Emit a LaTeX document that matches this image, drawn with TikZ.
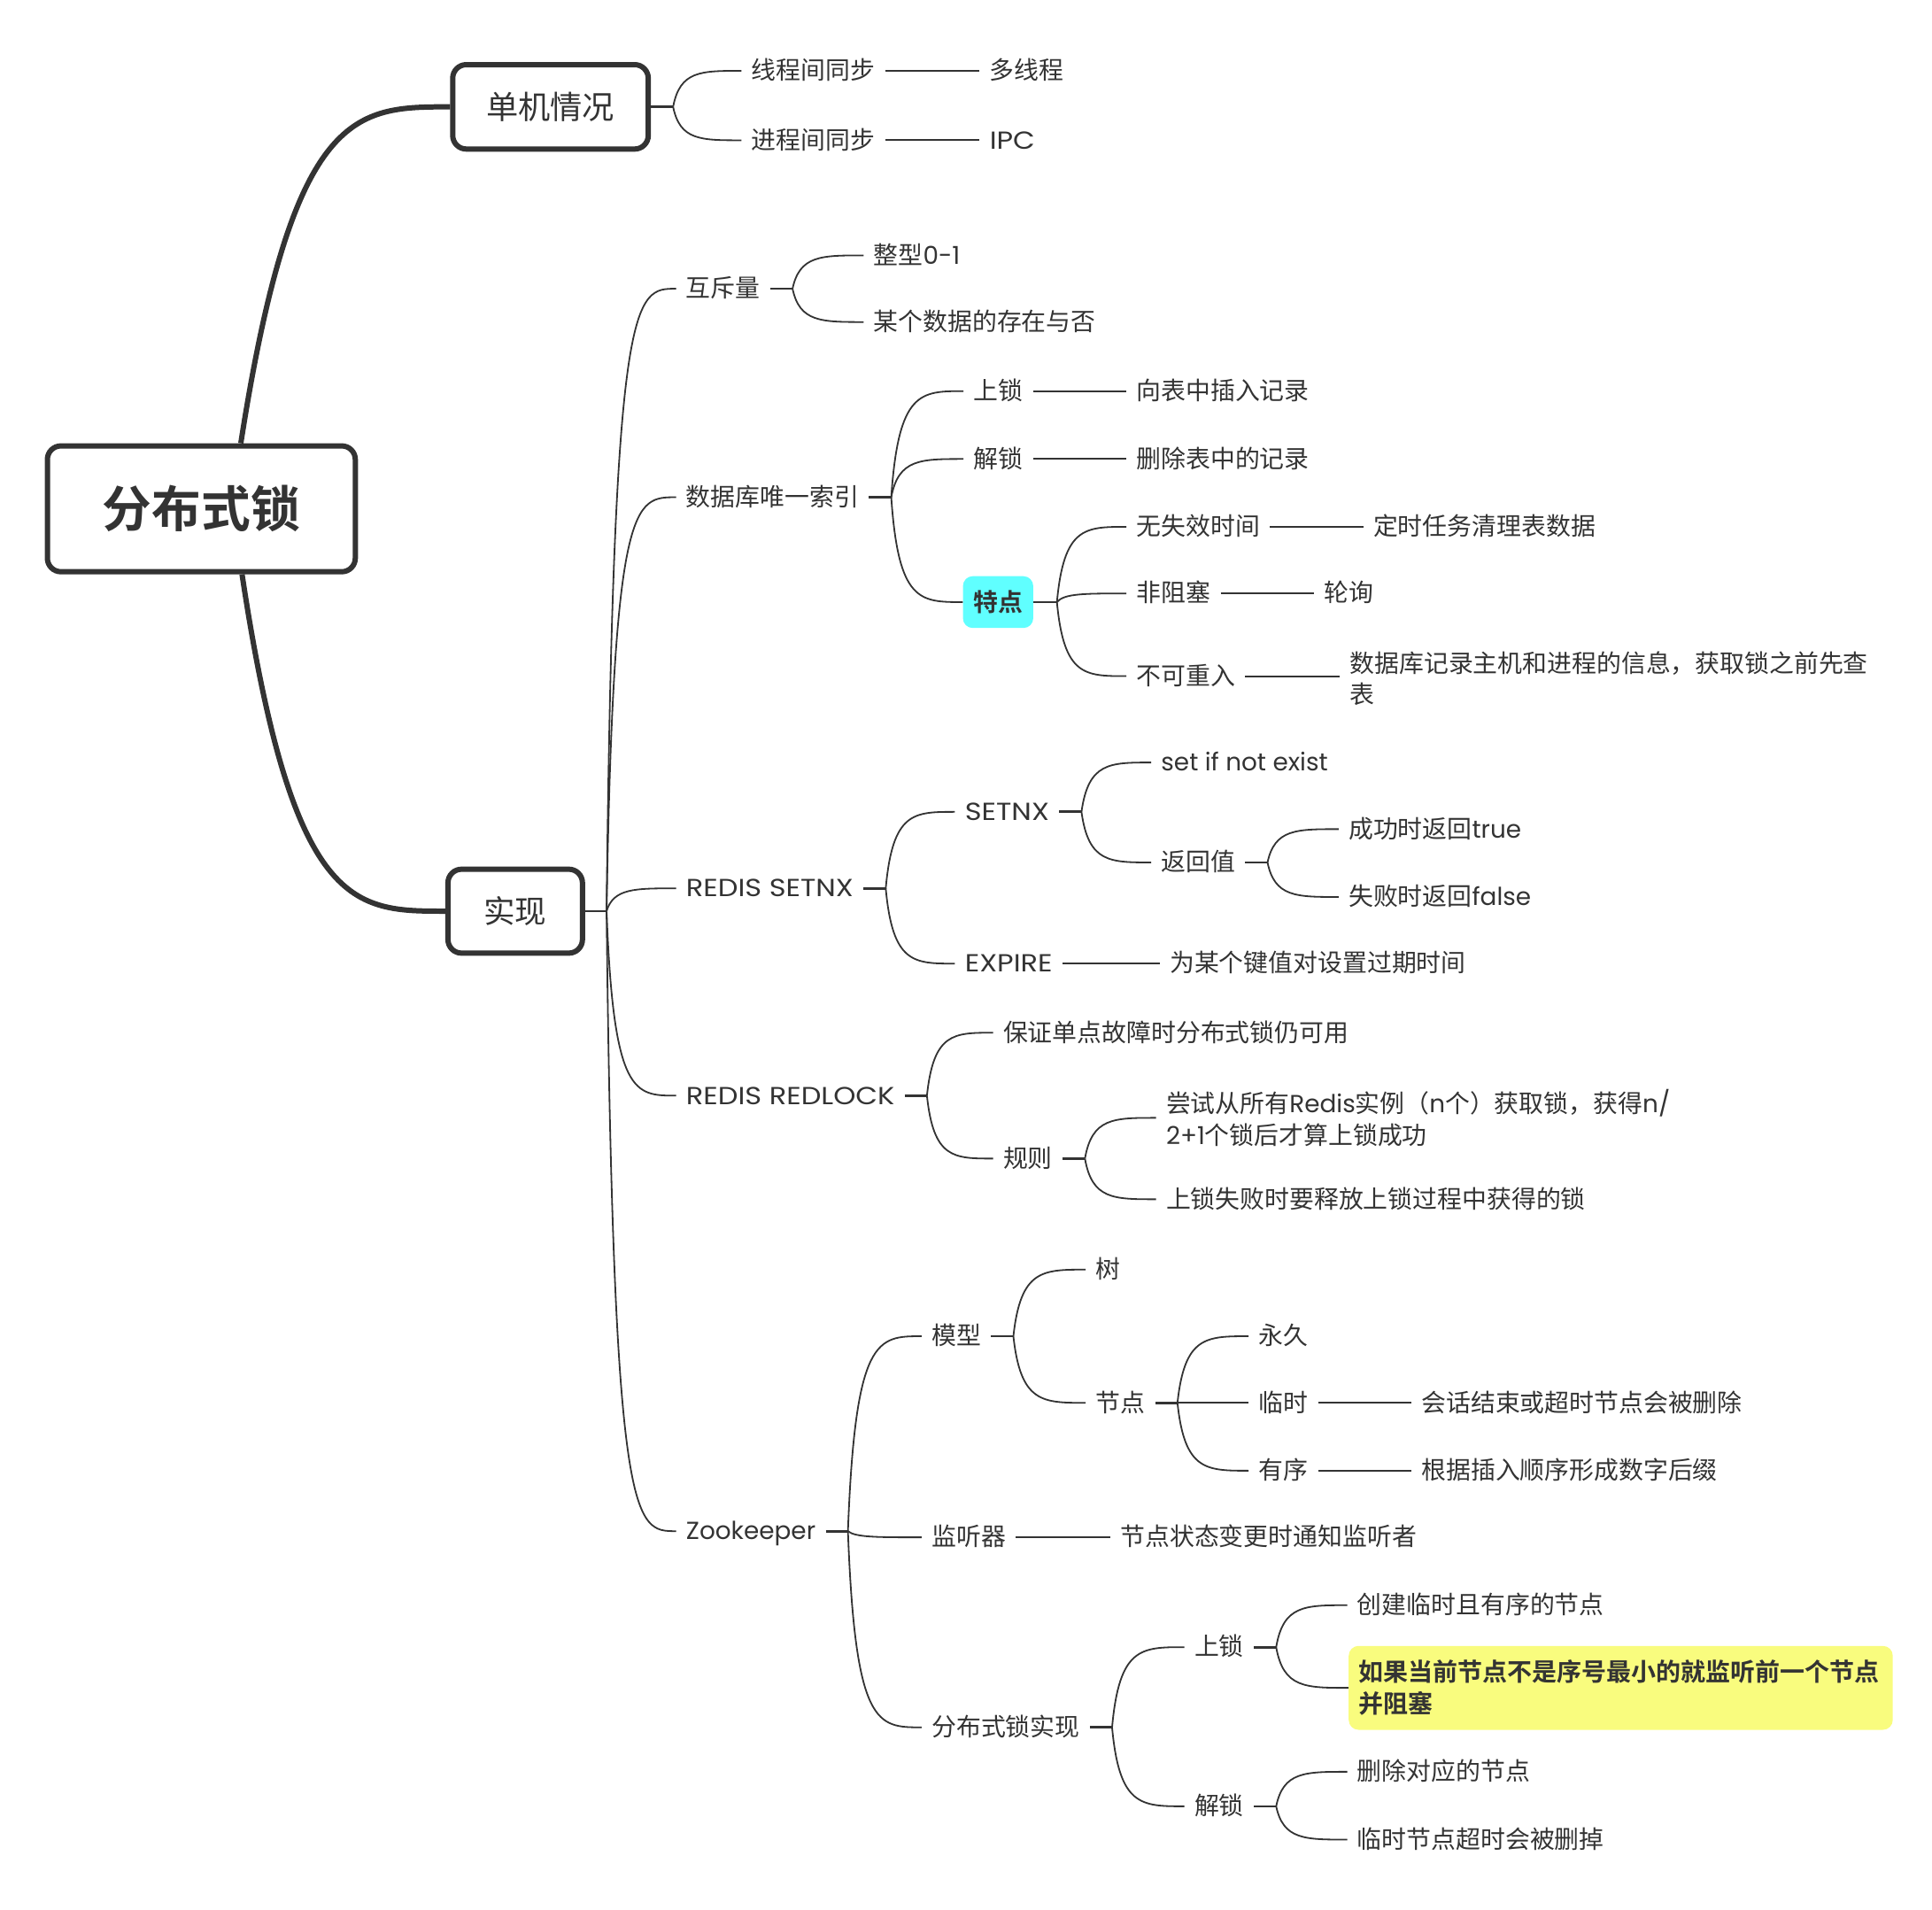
\documentclass[tikz,border=0pt]{standalone}
\usepackage{fontspec}
\setmainfont{Noto Sans CJK SC}[BoldFont={Noto Sans CJK SC Bold}]
\newfontfamily\lat{Poppins}
\newfontfamily\latw{Poppins}[FakeStretch=1.15]
\usetikzlibrary{calc}
\definecolor{ink}{HTML}{333333}
\definecolor{cyanfill}{HTML}{60FFFF}
\definecolor{yel}{HTML}{F9FC7E}
\newcommand\la[1]{{\lat #1}}
\newcommand\lw[1]{{\latw #1}}
\begin{document}
\begin{tikzpicture}[x=1pt,y=-1pt,
 t/.style={anchor=west, inner xsep=8pt, inner ysep=0pt, text height=17pt, text depth=3pt, font=\fontsize{20}{25}\selectfont, text=ink},
 ml/.style={anchor=west, inner xsep=8pt, inner ysep=0pt, align=left, font=\fontsize{20}{25.5}\selectfont, text=ink},
 bigbox/.style={draw=ink, line width=4.3pt, rounded corners=11pt, fill=white, text=ink, inner sep=0pt},
 thinln/.style={draw=ink, line width=1.3pt},
 stubln/.style={draw=ink, line width=2pt},
 strln/.style={draw=ink, line width=1.5pt},
 thickln/.style={draw=ink, line width=4.3pt},
 br/.style={to path={.. controls ($(\tikztostart|-\tikztotarget)!0.1!(\tikztotarget)$) and ($(\tikztostart|-\tikztotarget)!0.4!(\tikztotarget)$) .. (\tikztotarget)}},
 brk/.style={to path={.. controls ($(\tikztostart|-\tikztotarget)!0.25!(\tikztotarget)$) and ($(\tikztostart|-\tikztotarget)!0.55!(\tikztotarget)$) .. (\tikztotarget)}},
]
\useasboundingbox (0,0) rectangle (1566,1547.5);

% main boxes
\node[bigbox, minimum width=249.6pt, minimum height=102pt, font=\bfseries\fontsize{40}{40}\selectfont] (root) at (163.2,412.4) {分布式锁};
\node[bigbox, minimum width=158.5pt, minimum height=68.4pt, font=\fontsize{26}{26}\selectfont] (dj) at (446.2,86.6) {单机情况};
\node[bigbox, minimum width=109pt, minimum height=68pt, font=\fontsize{25.5}{26}\selectfont] (sx) at (417.6,738.5) {实现};

\draw[thickln] ($(root.north)+(32,0)$) to[brk] (dj.west);
\draw[thickln] ($(root.south)+(33,0)$) to[brk] (sx.west);

% 单机情况
\coordinate (fdj) at ($(dj.east)+(18,0)$);
\draw[stubln] (dj.east) -- (fdj);
\node[t] (a1) at (601,57.4) {线程间同步};
\node[t] (a2) at (601,113.7) {进程间同步};
\node[t] (a1b) at (794,57.4) {多线程};
\node[t] (a2b) at (794,113.7) {\lw{IPC}};
\draw[thinln] (fdj) to[br] (a1.west);
\draw[thinln] (fdj) to[br] (a2.west);
\draw[strln] (a1.east) -- (a1b.west);
\draw[strln] (a2.east) -- (a2b.west);

% 实现
\coordinate (fsx) at ($(sx.east)+(17.4,0)$);
\draw[stubln] (sx.east) -- (fsx);
\node[t] (b1) at (548,234) {互斥量};
\node[t] (b2) at (548,403) {数据库唯一索引};
\node[t] (b3) at (548,720) {\lw{REDIS SETNX}};
\node[t] (b4) at (548,888) {\lw{REDIS REDLOCK}};
\node[t] (b5) at (548,1241) {\la{Zookeeper}};
\foreach \n in {b1,b2,b3,b4,b5} \draw[thinln] (fsx) to[br] (\n.west);

% 互斥量
\coordinate (fb1) at ($(b1.east)+(18,0)$);
\draw[stubln] (b1.east) -- (fb1);
\node[t] (c11) at (700,207) {整型\la{0-1}};
\node[t] (c12) at (700,261) {某个数据的存在与否};
\draw[thinln] (fb1) to[br] (c11.west);
\draw[thinln] (fb1) to[br] (c12.west);

% 数据库唯一索引
\coordinate (fb2) at ($(b2.east)+(18,0)$);
\draw[stubln] (b2.east) -- (fb2);
\node[t] (c21) at (781,317) {上锁};
\node[t] (c22) at (781,372) {解锁};
\node[fill=cyanfill, rounded corners=8pt, minimum width=57pt, minimum height=42pt, inner sep=0pt, font=\bfseries\fontsize{20}{20}\selectfont, text=ink] (c23) at (809,488) {特点};
\draw[thinln] (fb2) to[br] (c21.west);
\draw[thinln] (fb2) to[br] (c22.west);
\draw[thinln] (fb2) to[br] (c23.west);
\node[t] (d211) at (913,317) {向表中插入记录};
\node[t] (d221) at (913,372) {删除表中的记录};
\draw[strln] (c21.east) -- (d211.west);
\draw[strln] (c22.east) -- (d221.west);

% 特点
\coordinate (fc23) at ($(c23.east)+(19,0)$);
\draw[stubln] (c23.east) -- (fc23);
\node[t] (e1) at (913,427) {无失效时间};
\node[t] (e2) at (913,481) {非阻塞};
\node[t] (e3) at (913,548) {不可重入};
\draw[thinln] (fc23) to[br] (e1.west);
\draw[thinln] (fc23) to[br] (e2.west);
\draw[thinln] (fc23) to[br] (e3.west);
\node[t] (e1b) at (1105,427) {定时任务清理表数据};
\node[t] (e2b) at (1065,481) {轮询};
\node[ml] (e3b) at (1086,550) {数据库记录主机和进程的信息，获取锁之前先查\\表};
\draw[strln] (e1.east) -- (e1b.west);
\draw[strln] (e2.east) -- (e2b.west);
\draw[strln] (e3.east) -- (e3.east -| e3b.west);

% REDIS SETNX
\coordinate (fb3) at ($(b3.east)+(18,0)$);
\draw[stubln] (b3.east) -- (fb3);
\node[t] (c31) at (774,658) {\lw{SETNX}};
\node[t] (c32) at (774,781) {\lw{EXPIRE}};
\draw[thinln] (fb3) to[br] (c31.west);
\draw[thinln] (fb3) to[br] (c32.west);
\coordinate (fc31) at ($(c31.east)+(18,0)$);
\draw[stubln] (c31.east) -- (fc31);
\node[t] (g1) at (933,618) {\la{set if not exist}};
\node[t] (g2) at (933,699) {返回值};
\draw[thinln] (fc31) to[br] (g1.west);
\draw[thinln] (fc31) to[br] (g2.west);
\coordinate (fg2) at ($(g2.east)+(18,0)$);
\draw[stubln] (g2.east) -- (fg2);
\node[t] (h1) at (1085,672) {成功时返回\la{true}};
\node[t] (h2) at (1085,727) {失败时返回\la{false}};
\draw[thinln] (fg2) to[br] (h1.west);
\draw[thinln] (fg2) to[br] (h2.west);
\node[t] (g3) at (940,781) {为某个键值对设置过期时间};
\draw[strln] (c32.east) -- (g3.west);

% REDIS REDLOCK
\coordinate (fb4) at ($(b4.east)+(18,0)$);
\draw[stubln] (b4.east) -- (fb4);
\node[t] (c41) at (805,837) {保证单点故障时分布式锁仍可用};
\node[t] (c42) at (805,939) {规则};
\draw[thinln] (fb4) to[br] (c41.west);
\draw[thinln] (fb4) to[br] (c42.west);
\coordinate (fc42) at ($(c42.east)+(18,0)$);
\draw[stubln] (c42.east) -- (fc42);
\node[ml] (i1) at (937,906) {尝试从所有\la{Redis}实例（\la{n}个）获取锁，获得\la{n/}\\\la{2+1}个锁后才算上锁成功};
\node[t] (i2) at (937,972) {上锁失败时要释放上锁过程中获得的锁};
\draw[thinln] (fc42) to[br] (i1.west);
\draw[thinln] (fc42) to[br] (i2.west);

% Zookeeper
\coordinate (fb5) at ($(b5.east)+(18,0)$);
\draw[stubln] (b5.east) -- (fb5);
\node[t] (c51) at (747,1083) {模型};
\node[t] (c52) at (747,1246) {监听器};
\node[t] (c53) at (747,1400) {分布式锁实现};
\draw[thinln] (fb5) to[br] (c51.west);
\draw[thinln] (fb5) to[br] (c52.west);
\draw[thinln] (fb5) to[br] (c53.west);

\coordinate (fc51) at ($(c51.east)+(18,0)$);
\draw[stubln] (c51.east) -- (fc51);
\node[t] (j1) at (880,1029) {树};
\node[t] (j2) at (880,1137) {节点};
\draw[thinln] (fc51) to[br] (j1.west);
\draw[thinln] (fc51) to[br] (j2.west);
\coordinate (fj2) at ($(j2.east)+(18,0)$);
\draw[stubln] (j2.east) -- (fj2);
\node[t] (k1) at (1012,1083) {永久};
\node[t] (k2) at (1012,1137) {临时};
\node[t] (k3) at (1012,1192) {有序};
\draw[thinln] (fj2) to[br] (k1.west);
\draw[thinln] (fj2) to[br] (k2.west);
\draw[thinln] (fj2) to[br] (k3.west);
\node[t] (k2b) at (1144,1137) {会话结束或超时节点会被删除};
\node[t] (k3b) at (1144,1192) {根据插入顺序形成数字后缀};
\draw[strln] (k2.east) -- (k2b.west);
\draw[strln] (k3.east) -- (k3b.west);

\node[t] (j3) at (900,1246) {节点状态变更时通知监听者};
\draw[strln] (c52.east) -- (j3.west);

\coordinate (fc53) at ($(c53.east)+(18,0)$);
\draw[stubln] (c53.east) -- (fc53);
\node[t] (l1) at (960,1335) {上锁};
\node[t] (l2) at (960,1464) {解锁};
\draw[thinln] (fc53) to[br] (l1.west);
\draw[thinln] (fc53) to[br] (l2.west);

\coordinate (fl1) at ($(l1.east)+(18,0)$);
\draw[stubln] (l1.east) -- (fl1);
\node[t] (m1) at (1092,1301) {创建临时且有序的节点};
\node[fill=yel, rounded corners=8pt, anchor=west, minimum height=68pt, text width=425pt, inner xsep=8pt, inner ysep=0pt, align=left, font=\bfseries\fontsize{20.1}{26}\selectfont, text=ink] (m2) at (1093,1368) {如果当前节点不是序号最小的就监听前一个节点\\并阻塞};
\draw[thinln] (fl1) to[br] (m1.west);
\draw[thinln] (fl1) to[br] (m2.west);

\coordinate (fl2) at ($(l2.east)+(18,0)$);
\draw[stubln] (l2.east) -- (fl2);
\node[t] (m3) at (1092,1436) {删除对应的节点};
\node[t] (m4) at (1092,1491) {临时节点超时会被删掉};
\draw[thinln] (fl2) to[br] (m3.west);
\draw[thinln] (fl2) to[br] (m4.west);
\end{tikzpicture}
\end{document}
